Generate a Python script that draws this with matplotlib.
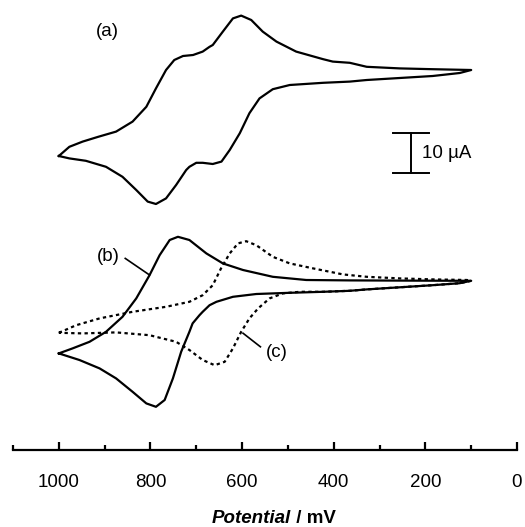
import numpy as np
import matplotlib
matplotlib.use("Agg")
import matplotlib.pyplot as plt

plt.rcParams['font.family'] = ['Liberation Sans', 'DejaVu Sans']

# curva (a): potencial (mV) y corriente (uA), ida y vuelta
E_a = [1000, 977, 948, 914, 875, 839, 809, 788, 766, 748, 729, 707, 686, 671, 664, 642, 620, 602,
       580, 555, 525, 482, 423, 402, 365, 328, 256, 184, 100,
       125, 184, 256, 328, 365, 423, 496, 533, 562, 584, 605, 627, 645, 664, 686, 700, 715, 722,
       744, 766, 788, 806, 831, 861, 897, 941, 977, 1000]
I_a = [-21.5, -19.2, -17.9, -16.7, -15.4, -12.9, -9.2, -4.6, 0.0, 2.5, 3.5, 3.75, 4.6, 5.8, 6.25, 9.6, 12.9, 13.6,
       12.5, 9.6, 7.1, 4.6, 2.7, 2.1, 1.8, 0.8, 0.4, 0.2, 0.0,
       -0.75, -1.5, -2.0, -2.5, -2.9, -3.2, -3.75, -4.8, -7.1, -10.8, -15.8, -20.0, -22.9, -23.5, -23.2, -23.2, -24.2, -25.0,
       -28.75, -32.1, -33.5, -32.9, -30.0, -26.7, -24.2, -22.7, -22.1, -21.5]

# curva (b)
E_b = [1000, 970, 933, 897, 861, 831, 802, 780, 758, 740, 715, 678, 642, 598, 533, 460, 365, 256, 100,
       125, 184, 328, 365, 423, 496, 569, 620, 656, 671, 686, 693, 708, 715, 733, 751, 769, 788, 809,
       839, 875, 911, 955, 1000]
I_b = [-18.15, -16.9, -15.25, -12.75, -9.0, -4.4, 1.4, 6.4, 10.2, 11.0, 10.2, 6.85, 4.35, 2.7, 1.0, 0.2, 0.1, 0.05, 0.0,
       -0.6, -1.1, -2.15, -2.5, -2.75, -3.0, -3.3, -4.0, -5.25, -6.1, -7.75, -8.6, -10.65, -12.75, -17.75, -24.4, -29.8, -31.5, -30.65,
       -27.75, -24.4, -21.9, -19.8, -18.15]

# curva (c), punteada
E_c = [1000, 962, 911, 839, 766, 715, 686, 664, 646, 627, 609, 591, 569, 533, 496, 445, 380, 328, 256, 184, 109, 100,
       125, 184, 328, 365, 423, 474, 511, 540, 565, 584, 602, 620, 638, 660, 686, 715, 744, 802, 875, 948, 1000]
I_c = [-13.0, -11.1, -9.4, -7.75, -6.5, -5.25, -3.6, -1.1, 3.1, 6.85, 9.35, 9.9, 8.9, 6.0, 4.35, 3.1, 1.6, 1.0, 0.6, 0.35, 0.2, 0.0,
       -0.6, -1.1, -2.15, -2.5, -2.75, -2.75, -3.15, -4.4, -6.9, -9.4, -12.75, -16.9, -20.25, -21.1, -19.8, -17.3, -15.25, -13.6, -12.9, -13.15, -13.0]

offset_bc = -52.7

fig = plt.figure(figsize=(5.25, 5.27), dpi=100)
ax = fig.add_axes([13/525, 1 - 450/527, 504/525, 450/527])

ax.plot(E_a, I_a, color='black', lw=1.6, solid_joinstyle='round')
ax.plot(E_b, np.array(I_b) + offset_bc, color='black', lw=1.6, solid_joinstyle='round')
ax.plot(E_c, np.array(I_c) + offset_bc, color='black', lw=1.6, linestyle=(0, (1.5, 1.5)))

ax.set_xlim(1100, 0)
ax.set_ylim(-95, 17.5)

for s in ['top', 'left', 'right']:
    ax.spines[s].set_visible(False)
ax.spines['bottom'].set_linewidth(1.6)
ax.set_yticks([])
ax.set_xticks([1000, 800, 600, 400, 200, 0])
ax.set_xticks([1100, 900, 700, 500, 300, 100], minor=True)
ax.tick_params(axis='x', which='major', direction='in', length=6, width=1.6, pad=17, labelsize=13.5)
ax.tick_params(axis='x', which='minor', direction='in', length=3.5, width=1.6)

# etiquetas
fs = 13.5
ax.text(893, 9.6, '(a)', ha='center', va='center', fontsize=fs)
ax.text(893, -46.7, '(b)', ha='center', va='center', fontsize=fs)
ax.plot([855, 802], [-47.1, -51.25], color='black', lw=1.2)
ax.text(524, -70.6, '(c)', ha='center', va='center', fontsize=fs)
ax.plot([598, 560], [-65.8, -69.2], color='black', lw=1.2)

# barra de escala 10 uA
ax.plot([232, 232], [-15.75, -25.75], color='black', lw=1.4)
ax.plot([271, 192], [-15.75, -15.75], color='black', lw=1.4)
ax.plot([271, 192], [-25.75, -25.75], color='black', lw=1.4)
ax.text(208, -20.75, '10 µA', ha='left', va='center', fontsize=fs)

# titulo del eje x
fig.text(291/525, 1 - 510/527, 'Potential', ha='right', va='top', fontsize=fs,
         weight='bold', style='italic')
fig.text(291/525, 1 - 510/527, ' / mV', ha='left', va='top', fontsize=fs, weight='bold')

fig.savefig('out.png', dpi=100)
